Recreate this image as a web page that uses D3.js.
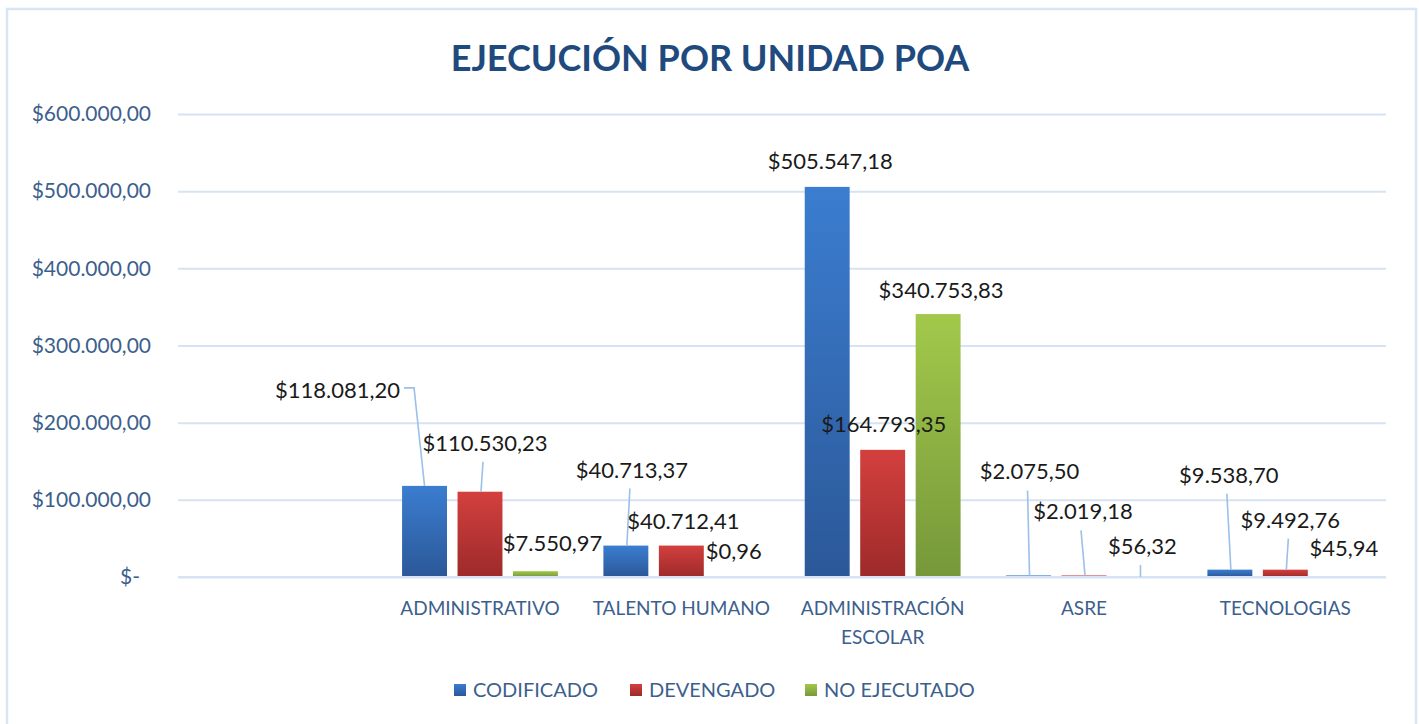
<!DOCTYPE html>
<html>
<head>
<meta charset="utf-8">
<script src="https://cdn.jsdelivr.net/npm/d3@7"></script>
<style>
  body { margin: 0; background: #fff; }
  svg { display: block; font-family: Lato, "Open Sans", sans-serif; }
</style>
</head>
<body>
<svg id="chart" width="1419" height="724"></svg>
<script>
var categories = ["", "ADMINISTRATIVO", "TALENTO HUMANO", "ADMINISTRACIÓN ESCOLAR", "ASRE", "TECNOLOGIAS"];
var seriesNames = ["CODIFICADO", "DEVENGADO", "NO EJECUTADO"];
var codificado = [null, 118081.20, 40713.37, 505547.18, 2075.50, 9538.70];
var devengado = [null, 110530.23, 40712.41, 164793.35, 2019.18, 9492.76];
var noEjecutado = [null, 7550.97, 0.96, 340753.83, 56.32, 45.94];
var yTicks = [0, 100000, 200000, 300000, 400000, 500000, 600000];

// label placement (dx, dy from bar top centre, leader type) - Excel moved these by hand
var labelOffsets = [
  [null, [-87, -96, 2], [6, -76, 1], [3, -26, 0], [1, -104, 1], [-1, -95, 1]],
  [null, [5, -49, 1], [2, -25, 0], [1, -26, 0], [-1, -64, 1], [5, -50, 1]],
  [null, [17, -28, 0], [-3, -26, 0], [3, -24, 0], [3, -31, 1], [3, -29, 0]]
];

var colors = [
  ["#3b7dd0", "#2b5898"],
  ["#d3403e", "#9d2a2a"],
  ["#a2c94b", "#76983a"]
];

var locale = d3.formatLocale({decimal: ",", thousands: ".", grouping: [3], currency: ["$", ""]});
var money = locale.format("$,.2f");

var svg = d3.select("#chart");
var plotLeft = 178, plotRight = 1386, plotTop = 114, plotBottom = 577;

svg.append("rect")
   .attr("x", 7).attr("y", 9)
   .attr("width", 1409).attr("height", 730)
   .attr("fill", "#fff")
   .attr("stroke", "#d9e5f3")
   .attr("stroke-width", 2.5);

var defs = svg.append("defs");
colors.forEach(function (c, i) {
  var g = defs.append("linearGradient")
              .attr("id", "grad" + i)
              .attr("x1", 0).attr("y1", 0).attr("x2", 0).attr("y2", 1);
  g.append("stop").attr("offset", "0%").attr("stop-color", c[0]);
  g.append("stop").attr("offset", "100%").attr("stop-color", c[1]);
});

var y = d3.scaleLinear().domain([0, 600000]).range([plotBottom, plotTop]);
var x0 = d3.scaleBand().domain(categories).range([plotLeft, plotRight]);
var x1 = d3.scaleBand().domain(seriesNames).range([0, x0.bandwidth()])
           .paddingInner(0.19).paddingOuter(0.41);

// gridlines + y labels
var yAxis = d3.axisLeft(y)
  .tickValues(yTicks)
  .tickSize(-(plotRight - plotLeft))
  .tickPadding(27)
  .tickFormat(function (d) { return d === 0 ? "$-" : money(d); });

var ya = svg.append("g")
  .attr("transform", "translate(" + plotLeft + ",0)")
  .call(yAxis)
  .attr("font-family", null)
  .attr("font-size", null);
ya.select(".domain").remove();
ya.selectAll(".tick line").attr("stroke", "#d6e3f2").attr("stroke-width", 2);
ya.selectAll(".tick text")
  .attr("fill", "#3d5f8d")
  .style("font-size", "21px")
  .attr("dx", function (d) { return d === 0 ? -11 : 0; });

// title
svg.append("text")
   .attr("x", 710).attr("y", 71)
   .attr("text-anchor", "middle")
   .attr("fill", "#1f4a7e")
   .style("font-size", "36px")
   .style("font-weight", "bold")
   .text("EJECUCIÓN POR UNIDAD POA");

var seriesValues = [codificado, devengado, noEjecutado];

var groups = svg.selectAll(".serie")
  .data(seriesValues)
  .enter().append("g")
  .attr("class", "serie");

groups.each(function (vals, si) {
  var g = d3.select(this);
  var pts = categories.map(function (c, ci) {
    return {cat: c, ci: ci, v: vals[ci]};
  }).filter(function (d) { return d.v !== null; });

  g.selectAll("rect")
   .data(pts)
   .enter().append("rect")
   .attr("x", function (d) { return x0(d.cat) + x1(seriesNames[si]); })
   .attr("y", function (d) { return y(d.v); })
   .attr("width", x1.bandwidth())
   .attr("height", function (d) { return plotBottom - y(d.v); })
   .attr("fill", "url(#grad" + si + ")");
});

// baseline sits over the bars (hides the tiny ASRE ones like the original)
svg.append("line")
   .attr("x1", plotLeft).attr("x2", plotRight)
   .attr("y1", y(0)).attr("y2", y(0))
   .attr("stroke", "#d6e3f2").attr("stroke-width", 2);

// data labels and leader lines on top
var labelLayer = svg.append("g");
seriesValues.forEach(function (vals, si) {
  categories.forEach(function (c, ci) {
    var v = vals[ci];
    if (v === null) return;
    var off = labelOffsets[si][ci];
    var cx = x0(c) + x1(seriesNames[si]) + x1.bandwidth() / 2,
        ty = y(v),
        lx = cx + off[0],
        ly = ty + off[1];

    var t = labelLayer.append("text")
      .attr("x", lx).attr("y", ly + 8)
      .attr("text-anchor", "middle")
      .attr("fill", "#1a1a1a")
      .style("font-size", "22px")
      .text(money(v));

    if (off[2] === 1) {
      labelLayer.append("line")
        .attr("x1", lx - 2).attr("y1", ly + 19)
        .attr("x2", cx + 1).attr("y2", ty)
        .attr("stroke", "#9cc0e8").attr("stroke-width", 1.6);
    } else if (off[2] === 2) {
      var w = t.node().getComputedTextLength();
      labelLayer.append("polyline")
        .attr("points", [[lx + w / 2 + 4, ly - 2], [lx + w / 2 + 14, ly - 2], [cx, ty]].join(" "))
        .attr("fill", "none")
        .attr("stroke", "#9cc0e8").attr("stroke-width", 1.6);
    }
  });
});

// category labels
var xa = svg.append("g");
xa.selectAll("text")
  .data(categories.filter(function (c) { return c !== ""; }))
  .enter().append("text")
  .attr("x", function (d) { return x0(d) + x0.bandwidth() / 2; })
  .attr("y", 615)
  .attr("text-anchor", "middle")
  .attr("fill", "#3d5f8d")
  .style("font-size", "19px")
  .text(function (d) { return d; })
  .call(wrap, x0.bandwidth() - 4);

// legend
var legendX = [454, 630, 805];
var legend = svg.append("g");
seriesNames.forEach(function (name, i) {
  legend.append("rect")
    .attr("x", legendX[i]).attr("y", 684)
    .attr("width", 12).attr("height", 12)
    .attr("fill", "url(#grad" + i + ")");
  legend.append("text")
    .attr("x", legendX[i] + 19).attr("y", 697)
    .attr("fill", "#3d5f8d")
    .style("font-size", "20px")
    .text(name);
});

function wrap(text, width) {
  text.each(function () {
    var text = d3.select(this),
        words = text.text().split(/\s+/).reverse(),
        word,
        line = [],
        lineNumber = 0,
        x = text.attr("x"),
        y = text.attr("y"),
        tspan = text.text(null).append("tspan").attr("x", x).attr("y", y);
    while (word = words.pop()) {
      line.push(word);
      tspan.text(line.join(" "));
      if (tspan.node().getComputedTextLength() > width && line.length > 1) {
        line.pop();
        tspan.text(line.join(" "));
        line = [word];
        tspan = text.append("tspan").attr("x", x).attr("y", y)
                    .attr("dy", (++lineNumber * 29) + "px").text(word);
      }
    }
  });
}
</script>
</body>
</html>
